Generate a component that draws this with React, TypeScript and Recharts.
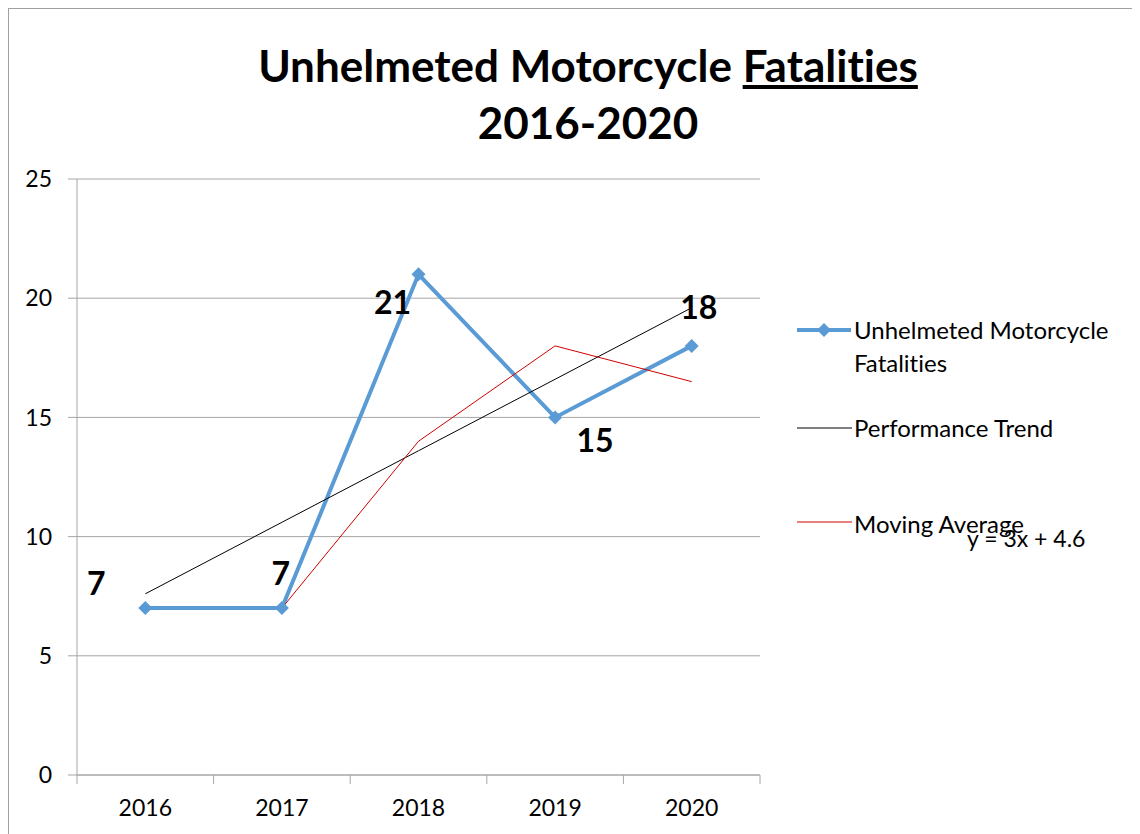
import React from 'react';
import { LineChart, Line, XAxis, YAxis, CartesianGrid, LabelList } from 'recharts';

const years = ['2016', '2017', '2018', '2019', '2020'];
const fatalities = [7, 7, 21, 15, 18];
const trend = [7.6, 10.6, 13.6, 16.6, 19.6];
const movingAvg: (number | null)[] = [null, 7, 14, 18, 16.5];
const yTicks = [0, 5, 10, 15, 20, 25];
const bandEdges = [0.5, 1.5, 2.5, 3.5, 4.5, 5.5];
const yearTicks = [1, 2, 3, 4, 5];

const data = years.map((year, i) => ({
  x: i + 1,
  year,
  fatalities: fatalities[i],
  trend: trend[i],
  movingAvg: movingAvg[i],
}));

// where each data label sits relative to its point (labels were hand-placed in the original)
const labelOffsets = [
  { dx: -49, dy: -26 },
  { dx: -1, dy: -36 },
  { dx: -26, dy: 27 },
  { dx: 40, dy: 22 },
  { dx: 7, dy: -39 },
];

const FONT = 'Lato, "Open Sans", sans-serif';
const BLUE = '#5b9bd5';
const RED = '#d00000';
const GRID = '#a6a6a6';

const Diamond = (props: any) => {
  const { cx, cy } = props;
  if (cx == null || cy == null) return null;
  const s = 7;
  return <polygon points={`${cx},${cy - s} ${cx + s},${cy} ${cx},${cy + s} ${cx - s},${cy}`} fill={BLUE} />;
};

const ValueLabel = (props: any) => {
  const { x, y, value, index } = props;
  const off = labelOffsets[index] || { dx: 0, dy: -30 };
  return (
    <text
      x={x + off.dx}
      y={y + off.dy}
      textAnchor="middle"
      dominantBaseline="central"
      fontSize={32}
      fontWeight={700}
      fontFamily={FONT}
      fill="#000"
    >
      {value}
    </text>
  );
};

export default function App() {
  return (
    <div
      style={{
        position: 'relative',
        width: 1132,
        height: 826,
        boxSizing: 'border-box',
        borderTop: '1px solid #a0a0a0',
        borderLeft: '1px solid #a0a0a0',
        background: '#fff',
        overflow: 'hidden',
        fontFamily: FONT,
        fontVariantLigatures: 'none',
      }}
    >
      <div
        style={{
          position: 'absolute',
          left: 0,
          width: 1158,
          top: 28,
          textAlign: 'center',
          fontSize: 44,
          fontWeight: 700,
          lineHeight: '57px',
          color: '#000',
        }}
      >
        Unhelmeted Motorcycle <span style={{ textDecoration: 'underline' }}>Fatalities</span>
        <br />
        2016-2020
      </div>

      <LineChart width={1131} height={825} data={data} margin={{ top: 170, right: 380, bottom: 9, left: 0 }}>
        <CartesianGrid vertical={false} stroke={GRID} />
        <XAxis
          dataKey="x"
          type="number"
          domain={[0.5, 5.5]}
          ticks={bandEdges}
          tickFormatter={() => ''}
          height={10}
          tickSize={9}
          stroke={GRID}
          tick={{ fontSize: 1 }}
        />
        <XAxis
          xAxisId="labels"
          dataKey="x"
          type="number"
          domain={[0.5, 5.5]}
          ticks={yearTicks}
          tickFormatter={(v: number) => years[v - 1]}
          height={40}
          axisLine={false}
          tickLine={false}
          tickSize={0}
          tickMargin={15}
          tick={{ fontSize: 23, fill: '#000', fontFamily: FONT }}
        />
        <YAxis
          domain={[0, 25]}
          ticks={yTicks}
          width={68}
          tickSize={9}
          tickMargin={16}
          stroke={GRID}
          tick={{ fontSize: 23, fill: '#000', fontFamily: FONT }}
        />
        <Line
          dataKey="fatalities"
          stroke={BLUE}
          strokeWidth={4}
          dot={<Diamond />}
          activeDot={false}
          isAnimationActive={false}
        >
          <LabelList dataKey="fatalities" content={<ValueLabel />} />
        </Line>
        <Line dataKey="trend" stroke="#000" strokeWidth={1} dot={false} activeDot={false} isAnimationActive={false} />
        <Line
          dataKey="movingAvg"
          stroke={RED}
          strokeWidth={1}
          dot={false}
          activeDot={false}
          connectNulls={false}
          isAnimationActive={false}
        />
      </LineChart>

      {/* legend */}
      <div style={{ position: 'absolute', left: 0, top: 0, fontSize: 24, color: '#000', lineHeight: '33px' }}>
        <svg width={60} height={20} style={{ position: 'absolute', left: 786, top: 311 }}>
          <line x1={2} y1={10} x2={56} y2={10} stroke={BLUE} strokeWidth={4} />
          <polygon points="29,3 36,10 29,17 22,10" fill={BLUE} />
        </svg>
        <div style={{ position: 'absolute', left: 845, top: 304, whiteSpace: 'nowrap' }}>
          Unhelmeted Motorcycle
          <br />
          Fatalities
        </div>
        <svg width={60} height={4} style={{ position: 'absolute', left: 788, top: 418 }}>
          <line x1={0} y1={1} x2={55} y2={1} stroke="#000" strokeWidth={1} />
        </svg>
        <div style={{ position: 'absolute', left: 845, top: 402, whiteSpace: 'nowrap' }}>Performance Trend</div>
        <svg width={60} height={4} style={{ position: 'absolute', left: 788, top: 512 }}>
          <line x1={0} y1={1} x2={55} y2={1} stroke={RED} strokeWidth={1} />
        </svg>
        <div style={{ position: 'absolute', left: 845, top: 498, whiteSpace: 'nowrap' }}>Moving Average</div>
        <div style={{ position: 'absolute', left: 958, top: 513, whiteSpace: 'nowrap', fontSize: 23 }}>
          y = 3x + 4.6
        </div>
      </div>
    </div>
  );
}
